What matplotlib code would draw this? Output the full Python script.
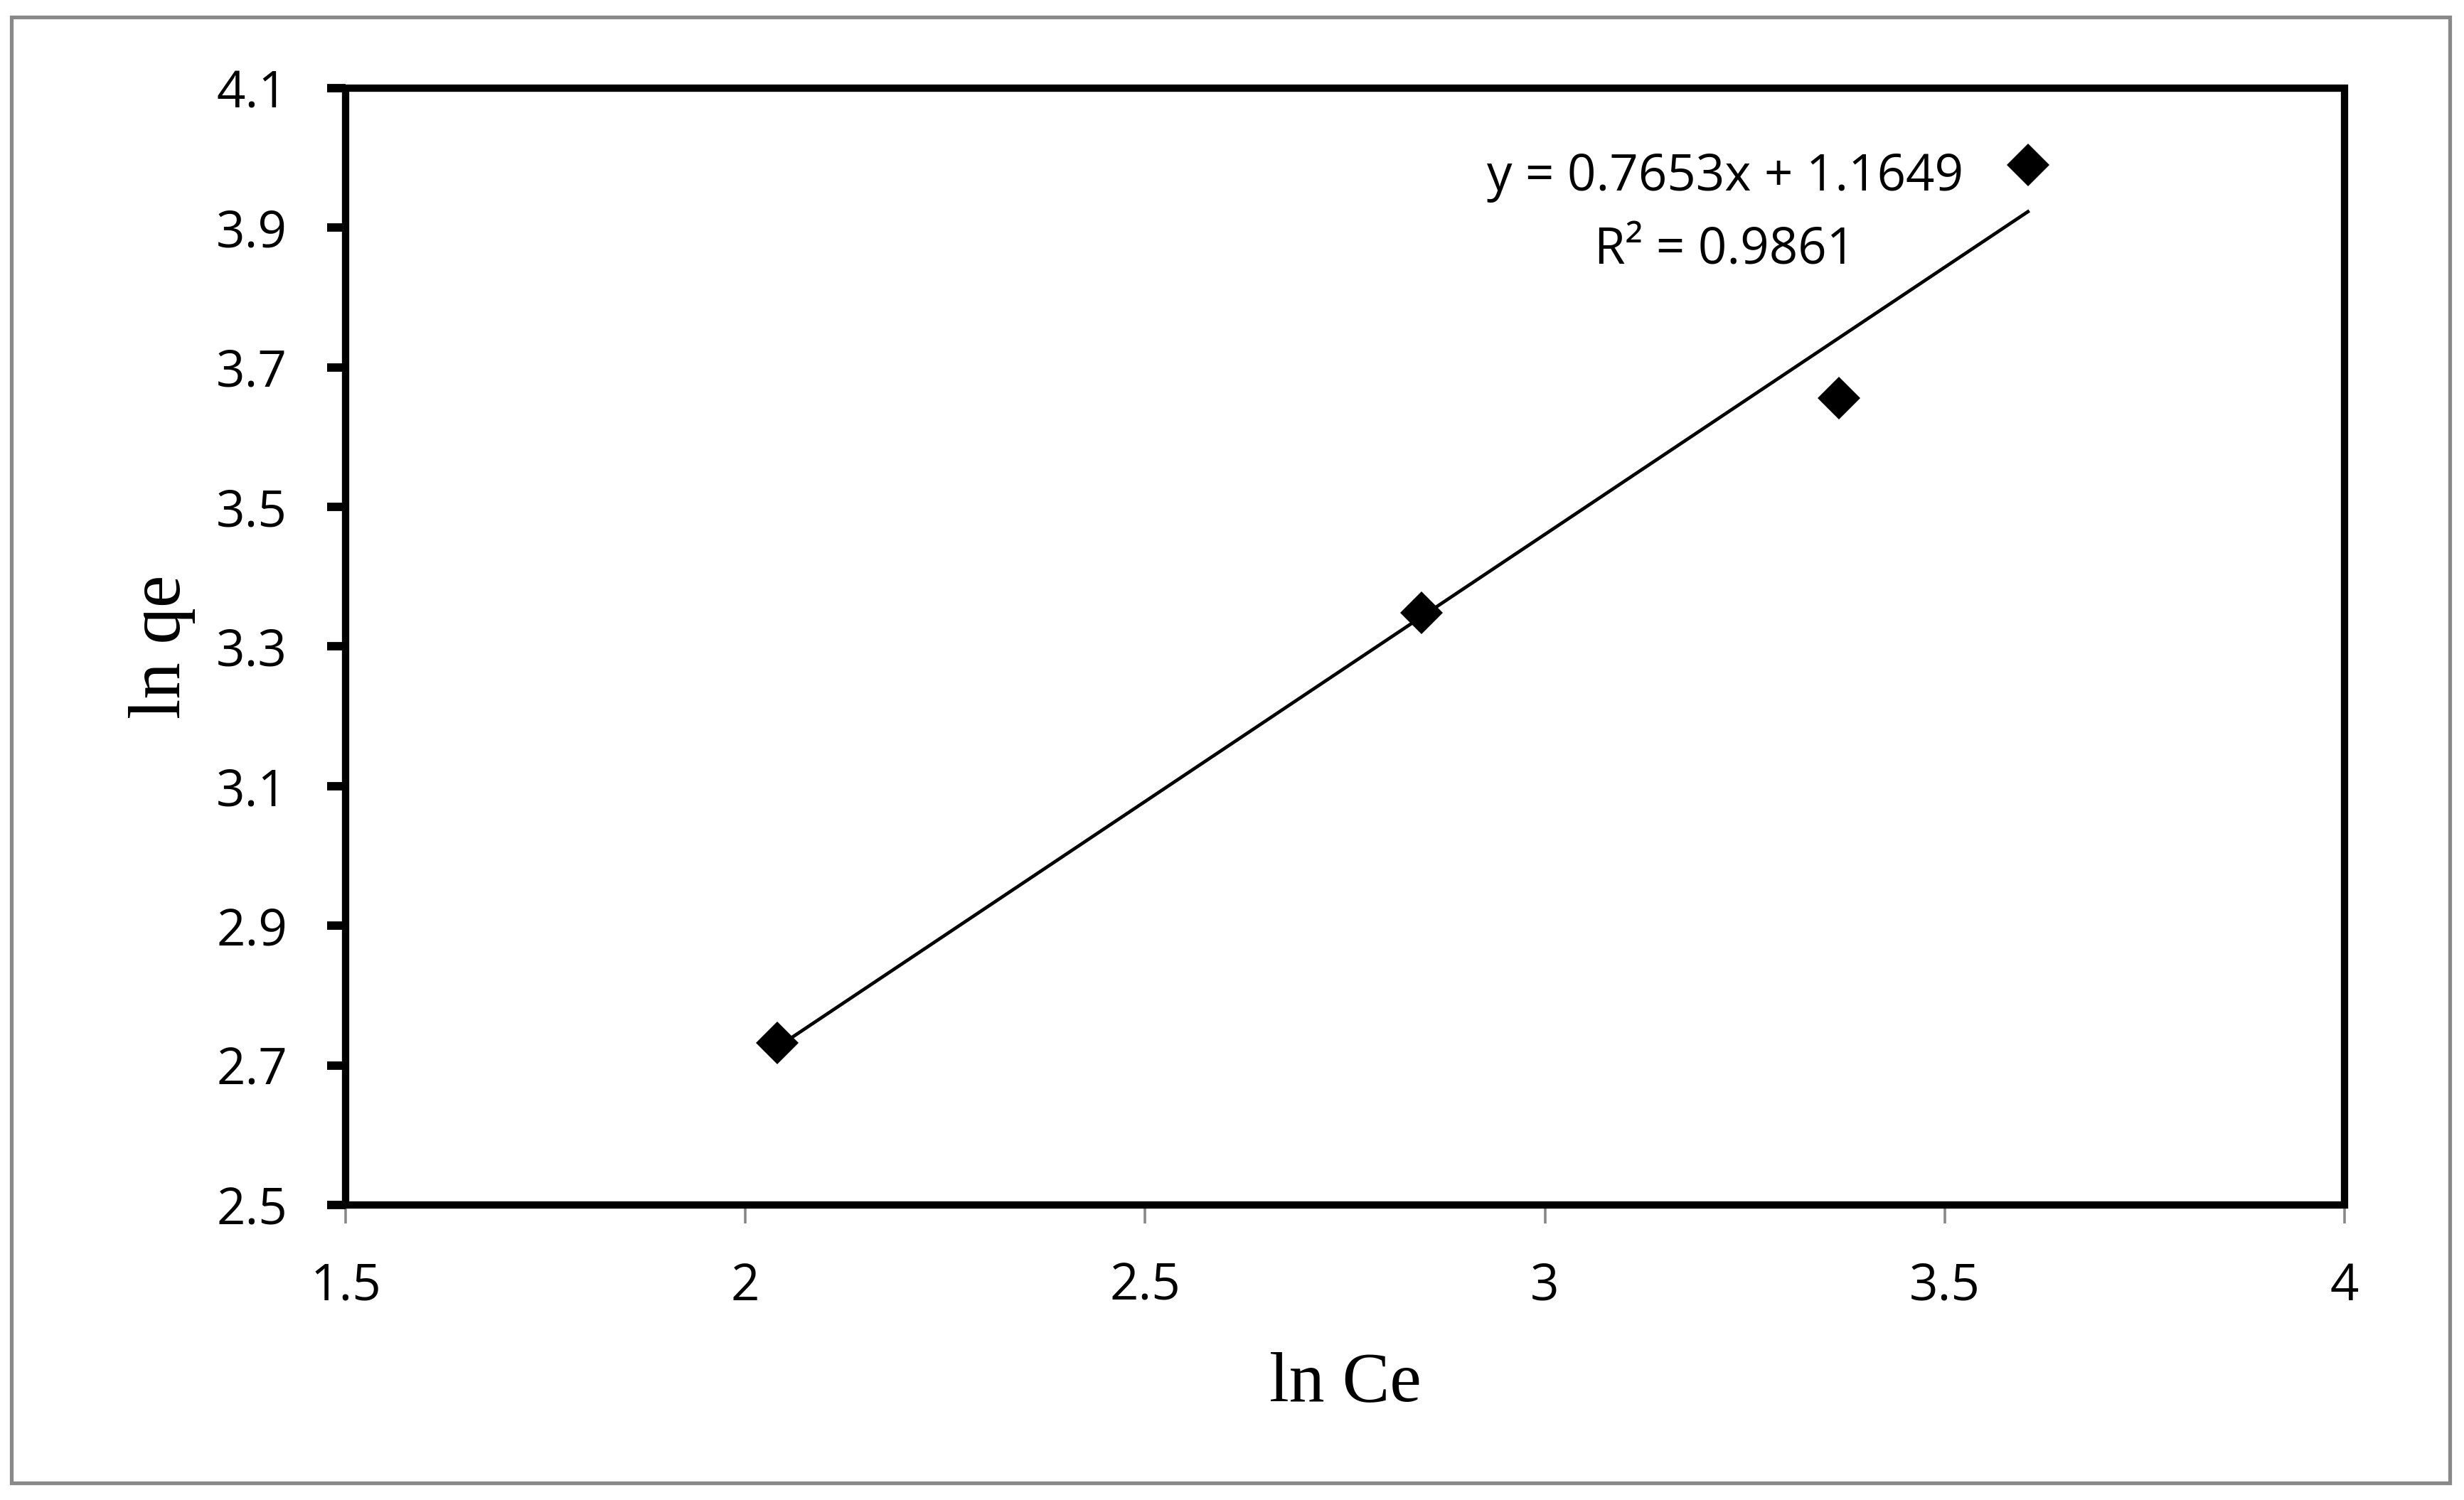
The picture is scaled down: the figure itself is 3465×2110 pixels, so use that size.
import numpy as np
import matplotlib
matplotlib.use("Agg")
import matplotlib.pyplot as plt
from matplotlib.patches import Rectangle

# data
ln_ce = [2.040, 2.846, 3.368, 3.604]
ln_qe = [2.732, 3.348, 3.656, 3.990]

# trendline as printed on the chart
slope, intercept = 0.7653, 1.1649
r2 = 0.9861

x_ticks = [1.5, 2, 2.5, 3, 3.5, 4]
x_ticklabels = ["1.5", "2", "2.5", "3", "3.5", "4"]
y_ticks = [2.5, 2.7, 2.9, 3.1, 3.3, 3.5, 3.7, 3.9, 4.1]
y_ticklabels = ["2.5", "2.7", "2.9", "3.1", "3.3", "3.5", "3.7", "3.9", "4.1"]

W, H = 3466, 2110
fig = plt.figure(figsize=(W / 100, H / 100), dpi=100)
ax = fig.add_axes([486 / W, 1 - 1695 / H, (3297 - 486) / W, (1695 - 124) / H])

tick_font = "Open Sans"
serif_font = "Liberation Serif"

# trendline over the data range
xt = np.array([min(ln_ce), max(ln_ce)])
ax.plot(xt, slope * xt + intercept, color="black", lw=3.4, zorder=2)

# data points
ax.plot(ln_ce, ln_qe, linestyle="none", marker="D", ms=31, color="black",
        markeredgewidth=0, zorder=3)

ax.set_xlim(1.5, 4)
ax.set_ylim(2.5, 4.1)
ax.set_xticks(x_ticks)
ax.set_xticklabels(x_ticklabels, fontfamily=tick_font, fontsize=51)
ax.set_yticks(y_ticks)
ax.set_yticklabels(y_ticklabels, fontfamily=tick_font, fontsize=51)

# frame: thick black box, thin grey x axis line
for side in ["left", "right", "top"]:
    ax.spines[side].set_visible(False)
ax.spines["bottom"].set_color("#888888")
ax.spines["bottom"].set_linewidth(2.6)
ax.add_patch(Rectangle((0, 0), 1, 1, transform=ax.transAxes, fill=False,
                       ec="black", lw=7.4, clip_on=False, zorder=4))

ax.tick_params(axis="x", direction="out", length=19, width=2.6,
               color="#888888", pad=38)
ax.tick_params(axis="y", direction="out", length=19, width=8.5,
               color="black", pad=40)

ax.set_xlabel("ln Ce", fontfamily=serif_font, fontsize=72, labelpad=40)
ax.set_ylabel("ln qe", fontfamily=serif_font, fontsize=74, labelpad=21)

ax.text(3.225, 3.972, "y = %.4fx + %.4f" % (slope, intercept),
        fontfamily=tick_font, fontsize=51, ha="center", va="center")
ax.text(3.225, 3.867, "R\u00b2 = %.4f" % r2,
        fontfamily=tick_font, fontsize=51, ha="center", va="center")

# outer chart border
fig.add_artist(Rectangle((16.5 / W, 1 - 2086 / H), (3445.5 - 16.5) / W,
                         (2086 - 23.5) / H, transform=fig.transFigure,
                         fill=False, ec="#898989", lw=3.8))

fig.savefig("out.png", dpi=100)
